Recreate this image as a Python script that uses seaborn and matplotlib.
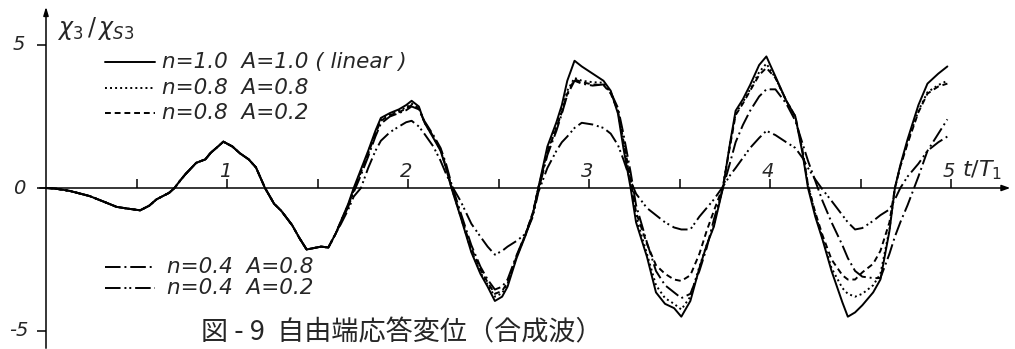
import numpy as np
import pandas as pd
import matplotlib
matplotlib.use("Agg")
import matplotlib.pyplot as plt
from matplotlib.lines import Line2D
import seaborn as sns

# ---------------------------------------------------------------
# data (t/T1 , x3/xs3)
# all five curves coincide up to t/T1 = 1.6
# ---------------------------------------------------------------
t_common = [0.00, 0.05, 0.13, 0.24, 0.32, 0.39, 0.45, 0.52, 0.57, 0.61,
            0.64, 0.68, 0.71, 0.74, 0.77, 0.83, 0.88, 0.91, 0.95, 0.98,
            1.03, 1.07, 1.12, 1.16, 1.21, 1.26, 1.30, 1.36, 1.40, 1.44,
            1.48, 1.52, 1.56, 1.60]
v_common = [0.00, -0.02, -0.10, -0.28, -0.48, -0.66, -0.72, -0.78, -0.62, -0.40,
            -0.30, -0.17, 0.00, 0.25, 0.48, 0.88, 1.00, 1.23, 1.45, 1.62,
            1.45, 1.22, 1.00, 0.72, 0.00, -0.55, -0.80, -1.30, -1.75, -2.15,
            -2.10, -2.05, -2.08, -1.60]

t_branch = [1.63, 1.67, 1.70, 1.74, 1.78, 1.82, 1.85, 1.90, 1.95, 1.99,
            2.02, 2.06, 2.09, 2.14, 2.18, 2.21, 2.24, 2.29, 2.35, 2.40,
            2.44, 2.48, 2.52, 2.55, 2.60, 2.65, 2.69, 2.72, 2.77, 2.82,
            2.85, 2.88, 2.92, 2.96, 3.02, 3.08, 3.12, 3.16, 3.19, 3.23,
            3.26, 3.32, 3.37, 3.42, 3.47, 3.51, 3.56, 3.61, 3.65, 3.69,
            3.74, 3.78, 3.81, 3.85, 3.89, 3.94, 3.98, 4.03, 4.09, 4.14,
            4.18, 4.21, 4.25, 4.29, 4.34, 4.40, 4.43, 4.47, 4.51, 4.57,
            4.61, 4.66, 4.69, 4.72, 4.76, 4.82, 4.87, 4.93, 4.98]

# n=1.0 A=1.0 (linear)
v_n10_a10 = [-1.15, -0.55, 0.00, 0.65, 1.30, 2.00, 2.45, 2.62, 2.75, 2.90,
             3.05, 2.85, 2.30, 1.75, 1.30, 0.70, 0.00, -1.00, -2.25, -3.00,
             -3.45, -3.95, -3.80, -3.45, -2.45, -1.65, -0.90, 0.00, 1.45, 2.30,
             2.90, 3.75, 4.45, 4.25, 4.00, 3.75, 3.40, 2.60, 1.40, 0.00,
             -1.20, -2.40, -3.65, -4.05, -4.20, -4.50, -3.95, -2.80, -2.00, -1.35,
             0.00, 1.60, 2.70, 3.10, 3.60, 4.30, 4.60, 3.90, 3.05, 2.50,
             1.20, 0.00, -1.00, -1.80, -2.90, -4.00, -4.50, -4.35, -4.10, -3.65,
             -3.20, -1.50, 0.00, 0.80, 1.70, 2.90, 3.65, 4.00, 4.25]
# n=0.8 A=0.8
v_n08_a08 = [-1.15, -0.58, -0.05, 0.60, 1.25, 1.95, 2.40, 2.58, 2.70, 2.82,
             2.95, 2.80, 2.30, 1.78, 1.32, 0.72, 0.02, -0.98, -2.20, -2.95,
             -3.38, -3.80, -3.68, -3.35, -2.40, -1.62, -0.88, 0.00, 1.30, 2.15,
             2.75, 3.40, 3.85, 3.75, 3.70, 3.68, 3.35, 2.70, 1.60, 0.20,
             -1.00, -2.30, -3.40, -3.85, -4.05, -4.25, -3.80, -2.75, -2.00, -1.30,
             0.05, 1.55, 2.60, 3.00, 3.45, 4.05, 4.35, 3.85, 3.05, 2.50,
             1.30, 0.10, -0.90, -1.75, -2.80, -3.50, -3.70, -3.80, -3.70, -3.40,
             -3.00, -1.45, 0.00, 0.75, 1.60, 2.70, 3.35, 3.60, 3.75]
# n=0.8 A=0.2
v_n08_a02 = [-1.15, -0.60, -0.08, 0.55, 1.20, 1.90, 2.35, 2.55, 2.65, 2.78,
             2.90, 2.78, 2.32, 1.80, 1.35, 0.75, 0.05, -0.95, -2.10, -2.85,
             -3.30, -3.70, -3.60, -3.30, -2.40, -1.60, -0.85, 0.00, 1.25, 2.10,
             2.65, 3.30, 3.80, 3.70, 3.62, 3.60, 3.30, 2.70, 1.65, 0.30,
             -0.85, -1.95, -2.70, -3.00, -3.20, -3.25, -3.05, -2.30, -1.50, -0.80,
             0.05, 1.50, 2.55, 2.95, 3.40, 3.95, 4.20, 3.85, 3.05, 2.50,
             1.30, 0.10, -0.85, -1.65, -2.50, -3.05, -3.20, -3.20, -2.95, -2.65,
             -2.20, -1.20, 0.00, 0.75, 1.55, 2.65, 3.30, 3.55, 3.65]
# n=0.4 A=0.8
v_n04_a08 = [-1.20, -0.65, -0.15, 0.45, 1.10, 1.80, 2.25, 2.50, 2.62, 2.72,
             2.85, 2.75, 2.35, 1.85, 1.40, 0.85, 0.15, -0.85, -2.00, -2.75,
             -3.20, -3.55, -3.45, -3.20, -2.35, -1.60, -0.90, -0.10, 1.15, 2.00,
             2.60, 3.25, 3.75, 3.65, 3.58, 3.62, 3.35, 2.80, 1.90, 0.55,
             -0.60, -1.90, -2.90, -3.40, -3.65, -3.85, -3.70, -2.90, -2.10, -1.10,
             0.00, 0.90, 1.60, 2.20, 2.70, 3.20, 3.45, 3.45, 2.95, 2.35,
             1.55, 0.95, 0.25, -0.45, -1.20, -2.00, -2.45, -2.90, -3.10, -3.15,
             -3.15, -2.30, -1.70, -1.20, -0.60, 0.40, 1.30, 1.90, 2.40]
# n=0.4 A=0.2
v_n04_a02 = [-1.25, -0.75, -0.30, 0.00, 0.70, 1.30, 1.65, 1.95, 2.15, 2.30,
             2.35, 2.15, 1.90, 1.45, 0.95, 0.50, 0.10, -0.45, -1.25, -1.70,
             -2.05, -2.33, -2.20, -2.05, -1.85, -1.60, -1.00, -0.15, 0.70, 1.30,
             1.60, 1.80, 2.10, 2.28, 2.22, 2.10, 1.90, 1.50, 1.00, 0.25,
             -0.20, -0.70, -0.95, -1.20, -1.38, -1.45, -1.45, -1.00, -0.70, -0.40,
             0.05, 0.45, 0.70, 1.05, 1.40, 1.75, 2.00, 1.85, 1.60, 1.40,
             1.05, 0.70, 0.30, -0.05, -0.45, -0.95, -1.20, -1.45, -1.40, -1.15,
             -0.95, -0.75, -0.40, 0.00, 0.40, 0.85, 1.30, 1.60, 1.80]

series_labels = ["n=1.0  A=1.0 ( linear )",
                 "n=0.8  A=0.8",
                 "n=0.8  A=0.2",
                 "n=0.4  A=0.8",
                 "n=0.4  A=0.2"]
series_values = [v_n10_a10, v_n08_a08, v_n08_a02, v_n04_a08, v_n04_a02]

x_ticks = [0.5, 1.0, 1.5, 2.0, 2.5, 3.0, 3.5, 4.0, 4.5, 5.0]
x_ticklabels = {1.0: "1", 2.0: "2", 3.0: "3", 4.0: "4", 5.0: "5"}
y_ticks = [5, 0, -5]
y_ticklabels = ["5", "0", "-5"]

# ---------------------------------------------------------------
# long table for seaborn
# ---------------------------------------------------------------
parts = []
for lab, vb in zip(series_labels, series_values):
    parts.append(pd.DataFrame({"t": t_common + t_branch,
                               "v": v_common + vb,
                               "series": lab}))
df = pd.concat(parts, ignore_index=True)

dash_map = {series_labels[0]: "",
            series_labels[1]: (1, 1.6),
            series_labels[2]: (3, 2),
            series_labels[3]: (8, 2, 1, 2),
            series_labels[4]: (8, 2, 1, 1.5, 1, 2)}
pal = {lab: "black" for lab in series_labels}

sns.set_style("white")
plt.rcParams["font.family"] = ["DejaVu Sans", "Noto Sans CJK JP"]

# pixel geometry of the scan: t=0 at x=46px, 181 px per unit,
# zero line at y=188px, 28.6 px per unit
W, H = 1015, 349
X0, SX = 46, 181.0
Y0, SY = 188, 28.6

def tx(px):
    return (px - X0) / SX

def vy(py):
    return (Y0 - py) / SY

fig = plt.figure(figsize=(W / 100, H / 100), dpi=100)
fig.patch.set_facecolor("white")
ax = fig.add_axes([0, 0, 1, 1])
ax.set_xlim(tx(0), tx(W))
ax.set_ylim(vy(H), vy(0))
ax.axis("off")

LW = 1.4
sns.lineplot(data=df, x="t", y="v", hue="series", style="series",
             hue_order=series_labels[::-1], style_order=series_labels[::-1],
             palette=pal, dashes=dash_map, sort=False, estimator=None,
             linewidth=LW, legend=False, ax=ax)

# axes with arrows
ax.annotate("", xy=(tx(1013), 0), xytext=(tx(37), 0),
            arrowprops=dict(arrowstyle="-|>,head_length=0.5,head_width=0.18",
                            color="black", lw=1.1))
ax.annotate("", xy=(0, vy(4)), xytext=(0, vy(H + 2)),
            arrowprops=dict(arrowstyle="-|>,head_length=0.5,head_width=0.15",
                            color="black", lw=1.1))

# x ticks point upward, labels above the axis
tick_h = 9 / SY
ax.vlines(x_ticks, 0, tick_h, color="black", lw=1.1)
for xt in x_ticks:
    if xt in x_ticklabels:
        ax.text(xt - 0.01, 17 / SY, x_ticklabels[xt], ha="center", va="center",
                fontsize=14, style="italic")
ax.text(tx(982), vy(170), r"$t/T_1$", ha="center", va="center", fontsize=16)

# y ticks point left
ax.hlines(y_ticks, tx(37), 0, color="black", lw=1.1)
for yt, yl in zip(y_ticks, y_ticklabels):
    ax.text(tx(19), yt, yl, ha="center", va="center", fontsize=14,
            style="italic")
ax.text(tx(57), vy(28), r"$\chi_3\,/\,\chi_{S3}$", ha="left", va="center",
        fontsize=17)

# legends (two groups, drawn by hand like the original)
leg_rows = [(0, 62, 162), (1, 88, 162), (2, 113, 162), (3, 267, 167), (4, 288, 167)]
for i, py, px_text in leg_rows:
    lab = series_labels[i]
    d = dash_map[lab]
    ln = Line2D([105 / W, 155 / W], [1 - py / H, 1 - py / H],
                transform=ax.transAxes, color="black", lw=LW)
    if d:
        ln.set_dashes(d)
    ax.add_line(ln)
    ax.text(px_text / W, 1 - py / H, lab, transform=ax.transAxes,
            ha="left", va="center", fontsize=15.5, style="italic")

# caption
ax.text(402 / W, 1 - 333 / H, "図 - 9  自由端応答変位（合成波）",
        transform=ax.transAxes, ha="center", va="center", fontsize=19.5,
        family=["Noto Sans CJK JP", "DejaVu Sans"])

fig.savefig("out.png", dpi=100, facecolor="white")
